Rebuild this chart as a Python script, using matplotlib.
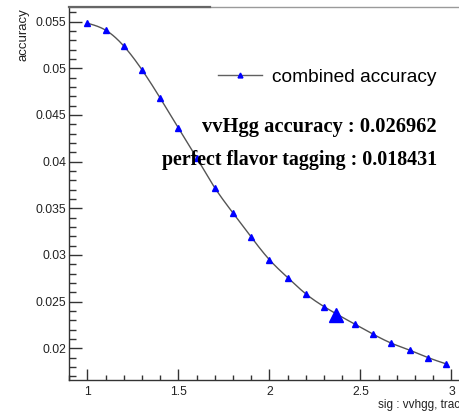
import numpy as np
import matplotlib
matplotlib.use("Agg")
import matplotlib.pyplot as plt
from matplotlib.lines import Line2D
from matplotlib.ticker import MultipleLocator, FuncFormatter

# Scan of the selection cut and the resulting combined accuracy
sig_cut = [1.0, 1.1, 1.2, 1.3, 1.4, 1.5, 1.6, 1.7, 1.8, 1.9, 2.0, 2.1, 2.2, 2.3,
           2.47, 2.57, 2.67, 2.77, 2.87, 2.97]
combined_accuracy = [0.05483, 0.05408, 0.05237, 0.04982, 0.04679, 0.04358,
                     0.04040, 0.03718, 0.03448, 0.03190, 0.02948, 0.02757,
                     0.02582, 0.02446, 0.02257, 0.02150, 0.02054, 0.01980,
                     0.01901, 0.01833]

# Highlighted working point
best_cut = [2.364]
best_accuracy = [0.02357]

vvhgg_accuracy = 0.026962
perfect_tagging = 0.018431


def natural_spline(x, y, n=500):
    """Natural cubic spline through (x, y), evaluated on a fine grid."""
    x = np.asarray(x, float)
    y = np.asarray(y, float)
    h = np.diff(x)
    m = len(x)
    A = np.zeros((m, m))
    b = np.zeros(m)
    A[0, 0] = A[-1, -1] = 1.0
    for i in range(1, m - 1):
        A[i, i - 1] = h[i - 1]
        A[i, i] = 2 * (h[i - 1] + h[i])
        A[i, i + 1] = h[i]
        b[i] = 6 * ((y[i + 1] - y[i]) / h[i] - (y[i] - y[i - 1]) / h[i - 1])
    M = np.linalg.solve(A, b)
    xs = np.linspace(x[0], x[-1], n)
    k = np.clip(np.searchsorted(x, xs) - 1, 0, m - 2)
    t0 = x[k + 1] - xs
    t1 = xs - x[k]
    hk = h[k]
    ys = (M[k] * t0 ** 3 / (6 * hk) + M[k + 1] * t1 ** 3 / (6 * hk)
          + (y[k] / hk - M[k] * hk / 6) * t0
          + (y[k + 1] / hk - M[k + 1] * hk / 6) * t1)
    return xs, ys


W, H = 460, 416
fig = plt.figure(figsize=(W / 100, H / 100), dpi=100)
ax = fig.add_axes([69.3 / W, 36 / H, 400.4 / W, 373.3 / H])

sans = "Liberation Sans"
serif = "Liberation Serif"

xs, ys = natural_spline(sig_cut, combined_accuracy)
ax.plot(xs, ys, color="#555555", lw=1.0, zorder=2)
ax.plot(sig_cut, combined_accuracy, ls="none", marker="^", markersize=4.2,
        markerfacecolor="blue", markeredgecolor="blue", zorder=3)
ax.plot(best_cut, best_accuracy, ls="none", marker="^", markersize=10,
        markerfacecolor="blue", markeredgecolor="blue", zorder=4)

ax.set_xlim(0.9, 3.1)
ax.set_ylim(0.0166, 0.0566)

ax.xaxis.set_major_locator(MultipleLocator(0.5))
ax.xaxis.set_minor_locator(MultipleLocator(0.1))
ax.yaxis.set_major_locator(MultipleLocator(0.005))
ax.yaxis.set_minor_locator(MultipleLocator(0.001))
fmt = FuncFormatter(lambda v, p: f"{v:g}")
ax.xaxis.set_major_formatter(fmt)
ax.yaxis.set_major_formatter(fmt)

ax.tick_params(which="both", direction="in", top=False, right=False,
               color="#333333", width=1.0, labelsize=8.8, labelcolor="#222222")
ax.tick_params(axis="y", which="major", length=9, pad=2)
ax.tick_params(axis="y", which="minor", length=4.8)
ax.tick_params(axis="x", which="major", length=8, pad=4.5)
ax.tick_params(axis="x", which="minor", length=3.6)
for lab in ax.get_xticklabels() + ax.get_yticklabels():
    lab.set_family(sans)

for side in ("left", "bottom"):
    ax.spines[side].set_color("#333333")
    ax.spines[side].set_linewidth(1.0)
ax.spines["right"].set_visible(False)
ax.spines["top"].set_color("#9a9a9a")
ax.spines["top"].set_linewidth(1.0)
fig.add_artist(Line2D([69.3 / W, 210 / W], [1 - 6.7 / H, 1 - 6.7 / H],
                      color="#666666", lw=1.6))

handle = Line2D([], [], color="#606060", lw=1.0, marker="^", markersize=3.5,
                markerfacecolor="blue", markeredgecolor="blue")
ax.legend([handle], ["combined accuracy"], loc="center left",
          bbox_to_anchor=(218 / W, 1 - 77 / H), bbox_transform=fig.transFigure,
          frameon=False, borderpad=0, borderaxespad=0, handlelength=2.3,
          handletextpad=0.5, prop=dict(family=sans, size=13.8))

fig.text(437 / W, 1 - 131.7 / H, f"vvHgg accuracy : {vvhgg_accuracy:.6f}",
         ha="right", va="baseline", family=serif, weight="bold", size=14.8)
fig.text(437 / W, 1 - 165 / H, f"perfect flavor tagging : {perfect_tagging:.6f}",
         ha="right", va="baseline", family=serif, weight="bold", size=14.4)

fig.text(23 / W, 1 - 8 / H, "accuracy", rotation=90, ha="center", va="top",
         family=sans, size=9.5, color="#222222")
fig.text(378 / W, 1 - 405 / H, "sig : vvhgg, trac", ha="left", va="center",
         family=sans, size=8.5, color="#222222")

fig.savefig("out.png", dpi=100)
